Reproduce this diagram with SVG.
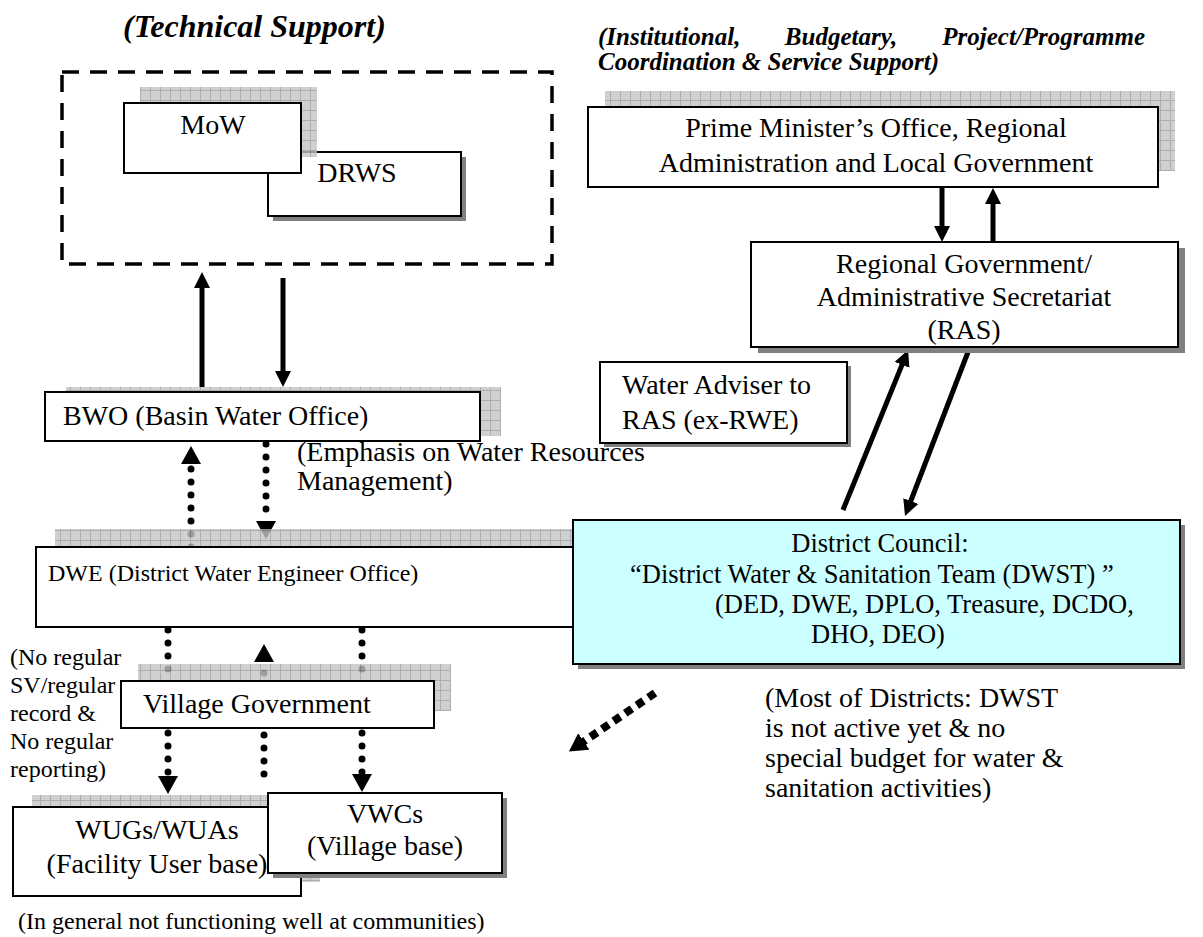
<svg xmlns="http://www.w3.org/2000/svg" width="1203" height="937" viewBox="0 0 1203 937">
<style>
text{font-family:"Liberation Serif","Times New Roman",serif;fill:#000}
.t{font-size:28px}
.s{font-size:24px}
.dc{font-size:26.5px}
.ti{font-size:25px;font-weight:bold;font-style:italic}
.box{fill:#fff;stroke:#000;stroke-width:2}
.sh{fill:#808080}
.pat{fill:url(#grid);opacity:0.8}
.solid{stroke:#000;stroke-width:5;fill:none}
.dot{stroke:#000;stroke-width:7;stroke-dasharray:0 13;stroke-linecap:round;fill:none}
.sq{stroke:#000;stroke-width:8;stroke-dasharray:8 6;fill:none}
</style>
<defs>
<pattern id="grid" width="10" height="10" patternUnits="userSpaceOnUse">
<rect width="10" height="10" fill="#c4c4c4"/>
<path d="M0,0.5H10M0.5,0V10" stroke="#9a9a9a" stroke-width="1"/>
</pattern>
<marker id="ah" viewBox="0 0 16 16" refX="1" refY="8" markerWidth="16" markerHeight="16" markerUnits="userSpaceOnUse" orient="auto"><path d="M0,0L16,8L0,16z" fill="#000"/></marker>
<marker id="dh" viewBox="0 0 18 20" refX="1" refY="10" markerWidth="18" markerHeight="20" markerUnits="userSpaceOnUse" orient="auto"><path d="M0,0L18,10L0,20z" fill="#000"/></marker>
</defs>
<rect width="1203" height="937" fill="#fff"/>

<g id="titles">
<text class="ti" x="123" y="37" style="font-size:32px">(Technical Support)</text>
<text class="ti" x="598" y="45">(Institutional,</text>
<text class="ti" x="841" y="45" text-anchor="middle">Budgetary,</text>
<text class="ti" x="1145" y="45" text-anchor="end">Project/Programme</text>
<text class="ti" x="598" y="70">Coordination &amp; Service Support)</text>
</g>

<g id="connectors">
<line class="solid" x1="202" y1="387" x2="202" y2="287" marker-end="url(#ah)"/>
<line class="solid" x1="283" y1="278" x2="283" y2="372" marker-end="url(#ah)"/>
<line class="solid" x1="942" y1="187" x2="942" y2="227" marker-end="url(#ah)"/>
<line class="solid" x1="993" y1="241" x2="993" y2="203" marker-end="url(#ah)"/>
<line class="solid" x1="843" y1="510" x2="902.4" y2="363.9" marker-end="url(#ah)"/>
<line class="solid" x1="968" y1="352" x2="910.4" y2="502" marker-end="url(#ah)"/>
<line class="dot" x1="191" y1="547" x2="191" y2="463" marker-end="url(#dh)"/>
<line class="dot" x1="266" y1="444" x2="266" y2="522" marker-end="url(#dh)"/>
<line class="dot" x1="168" y1="630" x2="168" y2="678"/>
<line class="dot" x1="264" y1="673" x2="264" y2="661" marker-end="url(#dh)"/>
<line class="dot" x1="362" y1="630" x2="362" y2="678"/>
<line class="dot" x1="168" y1="733" x2="168" y2="777" marker-end="url(#dh)"/>
<line class="dot" x1="264" y1="735" x2="264" y2="787"/>
<line class="dot" x1="362" y1="733" x2="362" y2="775" marker-end="url(#dh)"/>
<line class="sq" x1="655" y1="693" x2="583" y2="742" marker-end="url(#dh)"/>
</g>

<g id="tech-support">
<rect x="62" y="72" width="490" height="192" fill="none" stroke="#000" stroke-width="3.5" stroke-dasharray="17 11"/>
</g>

<g id="drws">
<rect class="sh" x="273" y="157" width="193" height="64"/>
<rect class="box" x="268" y="152" width="193" height="64"/>
<text class="t" x="357" y="182" text-anchor="middle">DRWS</text>
</g>
<g id="mow">
<rect class="pat" x="140" y="87" width="177" height="70"/>
<rect class="box" x="124" y="103" width="177" height="70"/>
<text class="t" x="213" y="134" text-anchor="middle">MoW</text>
</g>

<g id="pmo">
<rect class="pat" x="605" y="91" width="570" height="80"/>
<rect class="box" x="588" y="107" width="570" height="80"/>
<text class="t" x="876" y="137" text-anchor="middle">Prime Minister’s Office, Regional</text>
<text class="t" x="876" y="172" text-anchor="middle">Administration and Local Government</text>
</g>

<g id="ras">
<rect class="sh" x="758" y="248" width="427" height="105"/>
<rect class="box" x="751" y="242" width="427" height="105"/>
<text class="t" x="964" y="273" text-anchor="middle">Regional Government/</text>
<text class="t" x="964" y="306" text-anchor="middle">Administrative Secretariat</text>
<text class="t" x="964" y="339" text-anchor="middle">(RAS)</text>
</g>

<g id="water-adviser">
<rect class="sh" x="604" y="366" width="247" height="81"/>
<rect class="box" x="600" y="362" width="247" height="81"/>
<text class="t" x="622" y="394">Water Adviser to</text>
<text class="t" x="622" y="429">RAS (ex-RWE)</text>
</g>

<g id="bwo">
<rect class="pat" x="66" y="387" width="435" height="49"/>
<rect class="box" x="45" y="392" width="435" height="49"/>
<text class="t" x="63" y="425">BWO (Basin Water Office)</text>
</g>

<g id="emphasis-note">
<text class="t" x="297" y="461">(Emphasis on Water Resources</text>
<text class="t" x="297" y="490">Management)</text>
</g>

<g id="dwe">
<rect class="pat" x="55" y="529" width="560" height="80"/>
<rect class="box" x="36" y="547" width="560" height="80"/>
<text x="48" y="581" style="font-size:24px">DWE (District Water Engineer Office)</text>
</g>

<g id="district-council">
<rect class="sh" x="578" y="525" width="607" height="144"/>
<rect x="573" y="520" width="607" height="144" fill="#ccffff" stroke="#000" stroke-width="2"/>
<text class="dc" x="880" y="552" text-anchor="middle">District Council:</text>
<text class="dc" x="630" y="583">“District Water &amp; Sanitation Team (DWST) ”</text>
<text class="dc" x="715" y="613">(DED, DWE, DPLO, Treasure, DCDO,</text>
<text class="dc" x="811" y="643">DHO, DEO)</text>
</g>

<g id="dc-note">
<text class="t" x="765" y="707">(Most of Districts: DWST</text>
<text class="t" x="765" y="737">is not active yet &amp; no</text>
<text class="t" x="765" y="767">special budget for water &amp;</text>
<text class="t" x="765" y="797">sanitation activities)</text>
</g>

<g id="village-gov">
<rect class="pat" x="138" y="664" width="313" height="47"/>
<rect class="box" x="121" y="681" width="313" height="47"/>
<text class="t" x="143" y="713">Village Government</text>
</g>

<g id="supervision-note">
<text class="s" x="10" y="665">(No regular</text>
<text class="s" x="10" y="693">SV/regular</text>
<text class="s" x="10" y="721">record &amp;</text>
<text class="s" x="10" y="749">No regular</text>
<text class="s" x="10" y="777">reporting)</text>
</g>

<g id="wugs">
<rect class="pat" x="32" y="795" width="288" height="87"/>
<rect class="box" x="13" y="807" width="288" height="89"/>
<text class="t" x="157" y="839" text-anchor="middle">WUGs/WUAs</text>
<text class="t" x="157" y="873" text-anchor="middle">(Facility User base)</text>
</g>

<g id="vwcs">
<rect class="sh" x="273" y="798" width="234" height="80"/>
<rect class="box" x="268" y="793" width="234" height="80"/>
<text class="t" x="385" y="823" text-anchor="middle">VWCs</text>
<text class="t" x="385" y="855" text-anchor="middle">(Village base)</text>
</g>

<g id="bottom-note">
<text x="18" y="929" style="font-size:24px">(In general not functioning well at communities)</text>
</g>
</svg>
